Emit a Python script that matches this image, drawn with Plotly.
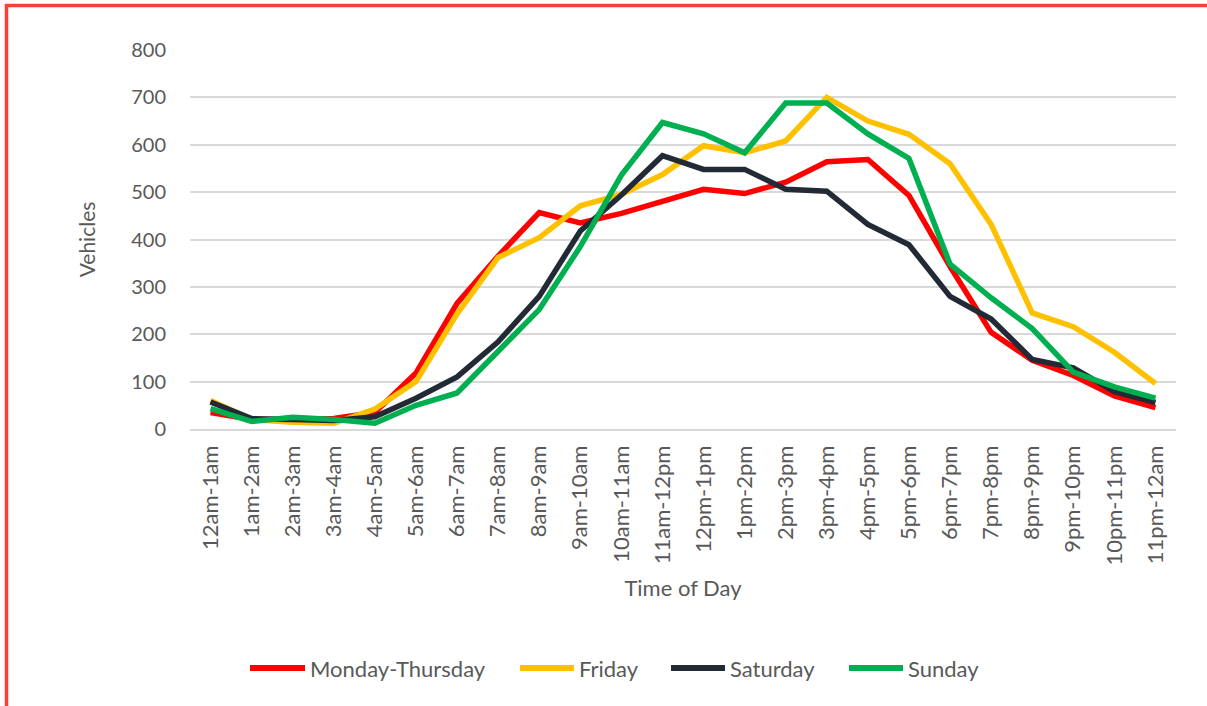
import plotly.graph_objects as go

hours = ["12am-1am", "1am-2am", "2am-3am", "3am-4am", "4am-5am", "5am-6am",
         "6am-7am", "7am-8am", "8am-9am", "9am-10am", "10am-11am", "11am-12pm",
         "12pm-1pm", "1pm-2pm", "2pm-3pm", "3pm-4pm", "4pm-5pm", "5pm-6pm",
         "6pm-7pm", "7pm-8pm", "8pm-9pm", "9pm-10pm", "10pm-11pm", "11pm-12am"]

mon_thu = [35, 20, 20, 22, 35, 118, 265, 365, 457, 435, 455, 482, 506, 497, 521, 564, 569, 493, 343, 204, 145, 113, 70, 45]
friday = [60, 20, 14, 12, 42, 100, 243, 362, 404, 471, 495, 537, 598, 583, 608, 700, 650, 622, 560, 432, 245, 216, 162, 96]
saturday = [57, 22, 20, 18, 26, 65, 110, 184, 280, 418, 494, 577, 548, 548, 506, 502, 432, 389, 280, 232, 147, 129, 79, 56]
sunday = [43, 16, 25, 20, 12, 50, 76, 163, 252, 385, 536, 647, 623, 583, 688, 688, 623, 571, 348, 277, 212, 120, 89, 65]

series_names = ["Monday-Thursday", "Friday", "Saturday", "Sunday"]
series_values = [mon_thu, friday, saturday, sunday]
series_colors = ["#FF0000", "#FFC000", "#222A35", "#00B050"]

font_family = "Lato, 'Open Sans', sans-serif"
text_color = "#595959"

fig = go.Figure()
for name, vals, color in zip(series_names, series_values, series_colors):
    fig.add_trace(go.Scatter(x=hours, y=vals, name=name, mode="lines",
                             line=dict(color=color, width=5.5)))

W, H = 1207, 706
ml, mr, mt, mb = 190, 31, 50, 277
pw, ph = W - ml - mr, H - mt - mb

def px_x(p):
    return (p - ml) / pw

def px_y(p):
    return (H - mb - p) / ph

shapes = [
    dict(type="line", xref="paper", yref="paper",
         x0=px_x(6.5), x1=px_x(6.5), y0=px_y(4), y1=px_y(H + 5),
         line=dict(color="#F44336", width=3.5)),
    dict(type="line", xref="paper", yref="paper",
         x0=px_x(5), x1=px_x(W + 5), y0=px_y(5.5), y1=px_y(5.5),
         line=dict(color="#F44336", width=3.5)),
]
annotations = []

# custom legend (line sample + label), laid out like the reference
legend_line_x = [(250, 305), (520, 574), (671, 725), (849, 903)]
legend_y = 668
for (x0, x1), name, color in zip(legend_line_x, series_names, series_colors):
    shapes.append(dict(type="line", xref="paper", yref="paper",
                       x0=px_x(x0), x1=px_x(x1), y0=px_y(legend_y), y1=px_y(legend_y),
                       line=dict(color=color, width=6)))
    annotations.append(dict(text=name, xref="paper", yref="paper",
                            x=px_x(x1 + 3), y=px_y(legend_y), xanchor="left", yanchor="middle",
                            showarrow=False, font=dict(size=22, color=text_color)))

fig.update_layout(
    width=W, height=H,
    margin=dict(l=ml, r=mr, t=mt, b=mb, pad=0),
    paper_bgcolor="white", plot_bgcolor="white",
    font=dict(family=font_family, color=text_color, size=16),
    showlegend=False,
    xaxis=dict(type="category", range=[-0.5, 23.5], tickangle=-90,
               showgrid=False, showline=True, linecolor="#D9D9D9", linewidth=1.5,
               ticks="", ticklabelstandoff=6,
               tickfont=dict(size=22, color=text_color),
               title=dict(text="Time of Day", font=dict(size=22, color=text_color), standoff=16)),
    yaxis=dict(range=[0, 800], dtick=100, showgrid=True, gridcolor="#D9D9D9", gridwidth=1.5,
               zeroline=False, showline=False, ticks="", ticklabelstandoff=23,
               tickfont=dict(size=20, color=text_color),
               title=dict(text="Vehicles", font=dict(size=21, color=text_color), standoff=29)),
    shapes=shapes,
    annotations=annotations,
)

fig.write_html("out.html", config={"displayModeBar": False},
               post_script="document.body.style.margin='0';document.body.style.overflow='hidden';")
